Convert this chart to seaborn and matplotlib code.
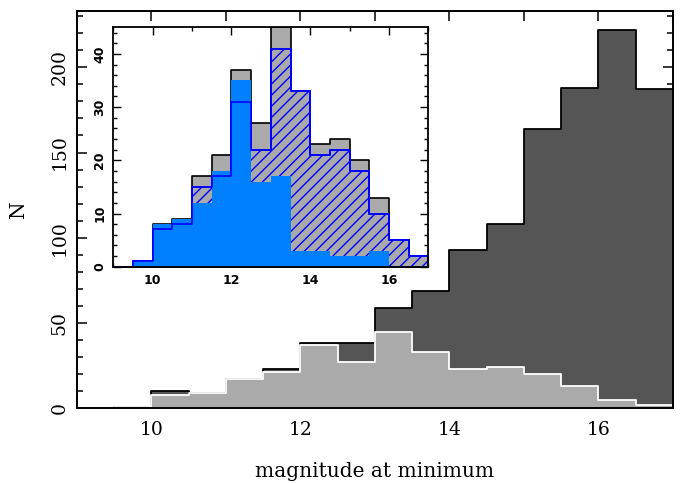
import numpy as np
import pandas as pd
import matplotlib
matplotlib.use("Agg")
import matplotlib.pyplot as plt
from matplotlib.ticker import MultipleLocator
import seaborn as sns


# ================================
# DATA (counts per 0.5 mag bin, 9.0 - 17.0)
# ================================

bin_edges = [9.0, 9.5, 10.0, 10.5, 11.0, 11.5, 12.0, 12.5, 13.0,
             13.5, 14.0, 14.5, 15.0, 15.5, 16.0, 16.5, 17.0]
bin_centers = [e + 0.25 for e in bin_edges[:-1]]

# main panel
n_all = [0, 1, 10, 9, 17, 23, 38, 38, 59, 69, 93, 108, 164, 188, 222, 187]
n_sub = [0, 1, 8, 9, 17, 21, 37, 27, 45, 33, 23, 24, 20, 13, 5, 2]

# inset panel
n_inset_total = n_sub
n_inset_hatch = [0, 1, 7, 8, 15, 17, 31, 22, 41, 33, 21, 22, 18, 10, 5, 2]
n_inset_solid = [0, 1, 8, 9, 12, 18, 35, 16, 17, 3, 3, 2, 2, 3, 0, 0]

main_xticks = [10, 12, 14, 16]
main_yticks = [0, 50, 100, 150, 200]
inset_xticks = [10, 12, 14, 16]
inset_yticks = [0, 10, 20, 30, 40]


df = pd.DataFrame({
    "mag": bin_centers,
    "all": n_all,
    "sub": n_sub,
    "tot": n_inset_total,
    "hatch": n_inset_hatch,
    "solid": n_inset_solid,
})


def step_hist(ax, col, **kw):
    sns.histplot(
        data=df,
        x="mag",
        weights=col,
        bins=bin_edges,
        element="step",
        ax=ax,
        **kw
    )


# ================================
# STYLE
# ================================

sns.set_style("ticks")
plt.rcParams["font.family"] = ["DejaVu Serif", "DejaVu Sans"]
plt.rcParams["hatch.linewidth"] = 1.0
plt.rcParams["text.color"] = "black"
plt.rcParams["axes.labelcolor"] = "black"
plt.rcParams["xtick.color"] = "black"
plt.rcParams["ytick.color"] = "black"

fig = plt.figure(figsize=(6.86, 4.83), dpi=100)

ax = fig.add_axes([0.1122, 0.1547, 0.8688, 0.8225])


# ================================
# MAIN HISTOGRAMS
# ================================

step_hist(ax, "all", fill=True, facecolor="#555555",
          edgecolor="black", linewidth=1.3)

step_hist(ax, "sub", fill=True, facecolor="#aaaaaa",
          edgecolor="white", linewidth=1.3)

ax.set_xlim(9, 17)
ax.set_ylim(0, 233)

ax.set_xticks(main_xticks)
ax.xaxis.set_minor_locator(MultipleLocator(1))
ax.set_yticks(main_yticks)
ax.yaxis.set_minor_locator(MultipleLocator(10))

ax.tick_params(
    which="both", direction="in", top=True, right=True,
    width=1.1, labelsize=13.5, colors="black"
)
ax.tick_params(axis="x", which="both", length=7, pad=9)
ax.tick_params(axis="y", which="major", length=7, pad=6)
ax.tick_params(axis="y", which="minor", length=4)

for lab in ax.get_yticklabels():
    lab.set_rotation(90)
    lab.set_va("center")

for sp in ax.spines.values():
    sp.set_linewidth(1.4)
    sp.set_color("black")

ax.set_xlabel("magnitude at minimum", fontsize=14.5, labelpad=17)
ax.set_ylabel("N", fontsize=14.5, labelpad=16)


# ================================
# INSET
# ================================

ax_in = fig.add_axes([0.1652, 0.4478, 0.4592, 0.4957])

step_hist(ax_in, "tot", fill=True, facecolor="#aaaaaa",
          edgecolor="black", linewidth=1.2)

step_hist(ax_in, "hatch", fill=True, facecolor="#aaaaaa",
          edgecolor="#0000ff", linewidth=1.2)
ax_in.collections[-1].set_hatch("///")

step_hist(ax_in, "solid", fill=True, facecolor="#0080ff",
          edgecolor="none", linewidth=0)

# outline of hatched sample on top of the solid one
step_hist(ax_in, "hatch", fill=False, color="#0000ff", linewidth=1.2)

ax_in.set_xlim(9, 17)
ax_in.set_ylim(0, 45)

ax_in.set_xticks(inset_xticks)
ax_in.xaxis.set_minor_locator(MultipleLocator(1))
ax_in.set_yticks(inset_yticks)
ax_in.yaxis.set_minor_locator(MultipleLocator(2))

ax_in.tick_params(
    which="both", direction="in", top=True, right=True, width=1.0,
    colors="black"
)
ax_in.tick_params(which="major", length=5.5)
ax_in.tick_params(which="minor", length=2.8)
ax_in.tick_params(axis="x", pad=5)
ax_in.tick_params(axis="y", pad=5)

for lab in ax_in.get_xticklabels() + ax_in.get_yticklabels():
    lab.set_family(["DejaVu Sans"])
    lab.set_fontweight("bold")
    lab.set_fontsize(9)
    lab.set_color("black")

for lab in ax_in.get_yticklabels():
    lab.set_rotation(90)
    lab.set_va("center")

for sp in ax_in.spines.values():
    sp.set_linewidth(1.3)
    sp.set_color("black")

ax_in.set_xlabel("")
ax_in.set_ylabel("")


fig.savefig("out.png", dpi=100)
plt.close(fig)
